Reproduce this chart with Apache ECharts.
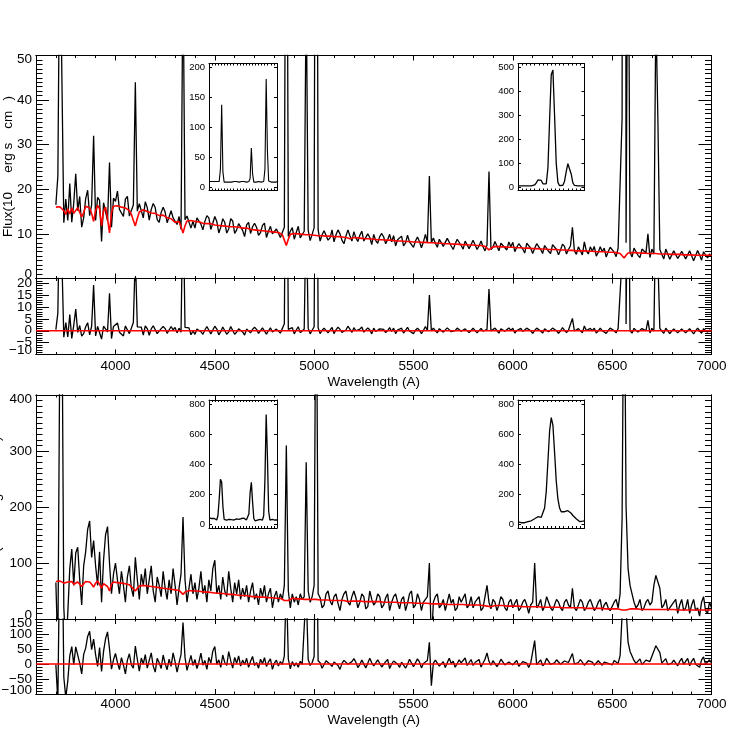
<!DOCTYPE html>
<html><head><meta charset="utf-8">
<script src="https://cdn.jsdelivr.net/npm/echarts@6/dist/echarts.min.js"></script>
<style>html,body{margin:0;padding:0;background:#fff}#c{width:747px;height:747px}</style>
</head><body><div id="c"></div><script>
// ---------------- data ----------------
const X_MIN = 3600, X_MAX = 7000, X_MINOR_STEP = 100;
const X_TICKS = [4000, 4500, 5000, 5500, 6000, 6500, 7000];
const X_TITLE = 'Wavelength (A)';
const Y_TITLE_RICH = '{a|Flux(10}{s|\u221217}{a| erg s}{s|\u22121}{a| cm}{s|\u22122}{a|)}';
const WL_START = 3700, WL_STEP = 10;   // spectrum sampling grid (Angstrom)

// top spectrum: model (red) and observed (black)
const MOD1 = [
16.0,15.6,16.1,15.8,15.2,14.4,15.6,14.5,15.8,14.6,
14.4,15.9,16.2,13.8,14.8,16.2,16.4,15.8,14.6,12.8,
15.2,16.4,15.6,11.8,15.1,16.0,13.4,10.2,14.8,16.2,
16.2,16.3,16.1,16.0,16.1,15.8,15.6,15.2,14.4,13.0,
11.8,13.5,14.9,15.3,15.4,15.2,15.0,15.0,14.7,14.7,
14.6,14.4,14.1,13.9,14.2,14.0,13.6,13.8,13.4,13.2,
12.6,13.0,12.8,11.6,10.2,11.8,12.9,13.2,13.0,12.9,
12.8,12.9,12.7,12.6,12.4,12.5,12.3,12.2,12.3,12.1,
12.0,12.1,11.9,11.9,11.8,11.8,11.7,11.6,11.6,11.7,
11.6,11.5,11.5,11.4,11.3,11.2,11.3,11.1,11.0,11.0,
10.9,10.9,10.8,10.8,10.7,10.7,10.6,10.6,10.5,10.5,
10.4,10.4,10.3,10.2,9.8,8.6,7.4,8.8,9.9,10.1,
10.1,10.0,10.0,9.9,9.9,9.9,9.8,9.8,9.8,9.7,
9.7,9.7,9.6,9.6,9.6,9.6,9.5,9.5,9.5,9.5,
9.4,9.4,9.4,9.4,9.3,9.3,9.2,9.0,8.9,9.1,
9.2,9.1,9.1,9.0,9.0,9.0,8.9,8.8,8.9,8.9,
8.8,8.8,8.7,8.6,8.7,8.7,8.6,8.6,8.6,8.5,
8.5,8.5,8.4,8.4,8.4,8.3,8.3,8.3,8.3,8.2,
8.2,8.2,8.2,8.1,8.1,8.1,8.1,8.0,8.0,8.0,
8.0,7.9,7.9,7.9,7.9,7.8,7.8,7.8,7.8,7.7,
7.7,7.7,7.7,7.6,7.6,7.6,7.6,7.5,7.5,7.5,
7.5,7.4,7.4,7.4,7.4,7.3,7.2,6.9,6.4,6.6,
7.1,7.2,7.2,7.2,7.1,7.1,7.1,7.1,7.0,7.0,
7.0,7.0,6.9,6.9,6.9,6.9,6.8,6.8,6.8,6.8,
6.7,6.7,6.7,6.7,6.6,6.6,6.6,6.6,6.5,6.5,
6.5,6.5,6.5,6.4,6.4,6.4,6.4,6.3,6.3,6.3,
6.3,6.3,6.2,6.2,6.2,6.2,6.2,6.1,6.1,6.1,
6.1,6.1,6.0,6.0,6.0,6.0,6.0,5.9,5.9,5.9,
5.9,5.9,5.8,5.8,5.6,5.1,4.6,5.2,5.7,5.8,
5.8,5.8,5.8,5.7,5.7,5.7,5.7,5.7,5.6,5.6,
5.6,5.6,5.6,5.6,5.5,5.5,5.5,5.5,5.5,5.5,
5.4,5.4,5.4,5.4,5.4,5.4,5.3,5.3,5.3,5.3,
5.3,5.3,5.2,5.2,5.2,5.2,5.2,5.2,5.2,5.2,
5.2];
const OBS1 = [
16.5,23.0,80,80,12.5,17.8,13.0,21.3,12.6,16.9,
23.5,15.2,18.4,11.5,13.6,17.9,19.8,14.1,16.5,32.0,
13.0,18.2,17.5,8.3,17.0,16.8,12.9,26.0,11.5,18.0,
17.3,19.6,15.5,15.2,13.9,17.8,18.4,14.0,13.9,16.5,
44.0,15.1,16.8,16.8,13.6,17.2,15.9,13.1,15.5,16.8,
15.9,13.2,12.6,14.8,16.0,14.9,12.5,12.3,15.2,13.6,
14.0,12.1,13.9,11.0,70,13.2,14.0,14.4,11.3,12.8,
11.3,13.6,14.0,12.2,10.9,12.8,14.1,13.6,11.0,12.4,
13.9,12.8,10.2,11.5,13.4,12.6,10.2,11.1,13.4,12.9,
10.1,10.9,12.3,12.7,10.8,9.4,12.0,12.6,10.1,11.6,
12.4,11.5,9.7,10.3,11.9,12.4,9.2,10.6,11.7,10.0,
9.8,11.1,11.5,9.2,9.0,11.5,137,9.4,10.6,11.4,
8.8,10.3,11.7,9.1,9.0,10.6,65,10.8,8.5,9.9,
11.4,180,10.9,8.4,9.8,10.7,11.0,8.6,9.1,10.9,
8.2,9.8,10.9,10.0,8.6,7.8,9.5,10.9,9.6,8.4,
10.5,9.1,8.3,9.7,10.6,8.4,8.5,10.0,9.2,7.6,
9.9,8.5,7.9,9.4,10.1,9.3,7.8,8.7,9.9,8.2,
9.6,7.3,8.7,9.1,9.5,7.3,8.0,9.7,8.2,8.5,
7.0,8.4,9.3,8.3,6.9,8.2,9.9,8.1,23.0,8.0,
9.1,7.9,7.0,8.8,8.9,7.2,7.6,9.0,8.9,7.3,
6.5,7.8,8.8,8.7,7.4,6.6,8.4,8.3,6.7,7.6,
8.6,8.5,6.5,7.3,8.4,7.1,6.2,7.5,24.0,6.5,
7.0,8.3,7.3,6.2,7.9,8.1,6.9,6.4,8.2,7.1,
8.1,6.0,7.0,7.8,7.9,6.6,5.7,7.9,7.9,6.8,
5.6,6.8,7.8,7.7,6.5,5.6,7.4,7.4,6.1,5.6,
7.6,7.5,6.5,5.3,6.4,7.7,7.2,5.5,6.5,7.3,
11.5,6.2,5.4,7.1,7.3,5.3,8.2,6.2,5.5,7.1,
6.1,7.2,5.0,5.9,7.1,6.0,6.8,4.8,6.0,7.0,
7.0,5.9,4.9,6.8,6.7,36,490,8.0,100,5.9,
4.8,6.8,6.6,5.2,4.7,6.6,6.5,5.7,10.0,4.7,
6.6,5.5,60,36,6.5,5.4,4.4,6.6,6.6,4.3,
5.3,6.2,6.5,4.5,5.2,6.1,6.4,4.4,5.3,6.2,
6.2,4.0,5.1,6.3,5.3,4.1,6.0,6.2,4.6,5.5,
5.0];

// bottom spectrum: model (red) and observed (black)
const MOD2 = [
67,66,68,66,64,62,66,63,67,62,
61,66,67,58,63,67,68,66,62,57,
64,68,65,55,63,66,58,50,62,66,
65,65,64,64,63,63,62,61,58,54,
50,55,59,60,60,59,59,58,58,57,
57,56,56,55,55,54,54,54,53,53,
52,52,51,48,44,48,51,51,51,50,
50,50,49,49,49,48,48,48,47,47,
47,46,46,46,45,45,45,44,44,44,
43,43,43,42,42,42,41,41,41,40,
40,40,39,39,39,39,38,38,38,38,
37,37,37,37,36,33,30,33,36,37,
37,36,36,36,36,35,35,35,35,35,
35,35,34,34,34,34,34,34,33,33,
33,33,33,33,33,33,32,31,31,32,
32,32,32,32,32,31,31,31,31,31,
31,31,31,31,30,30,30,30,30,30,
30,30,30,29,29,29,29,29,29,29,
29,28,28,28,28,28,28,28,28,27,
27,27,27,27,27,27,27,26,26,26,
26,26,26,26,26,26,25,25,25,25,
25,25,25,25,25,24,24,23,21,22,
24,24,24,24,24,24,23,23,23,23,
23,23,23,23,23,22,22,22,22,22,
22,22,22,22,21,21,21,21,21,21,
21,21,21,21,21,20,20,20,20,20,
20,20,20,20,20,20,19,19,19,19,
19,19,19,19,19,19,19,18,18,18,
18,18,18,18,17,16,15,16,17,18,
18,18,18,18,18,17,17,17,17,17,
17,17,17,17,17,17,17,17,17,17,
17,17,16,16,16,16,16,16,16,16,
16,16,16,16,16,16,16,16,16,16,
16];
const OBS2 = [
65,-60,500,600,20,-50,10,90,125,60,
118,128,70,25,95,120,160,175,110,140,
95,60,120,30,105,150,165,100,45,80,
100,70,45,85,60,30,75,95,55,40,
110,70,35,80,60,90,45,70,95,50,
30,75,60,40,85,55,35,70,45,90,
60,25,55,80,182,70,30,55,80,45,
65,35,55,85,45,60,30,70,50,90,
105,45,60,35,75,50,40,85,55,30,
65,45,70,35,55,40,60,30,50,65,
35,45,25,55,40,60,30,45,55,20,
40,50,30,45,35,60,310,50,20,45,
30,40,25,45,35,40,280,50,30,40,
60,730,45,38,20,25,45,50,32,25,
40,45,28,15,35,45,50,30,25,40,
50,38,20,30,45,40,18,22,50,35,
25,30,45,40,20,25,38,45,15,30,
40,45,30,18,35,40,15,28,45,50,
20,25,45,35,15,30,35,40,100,-45,
30,40,45,20,25,35,15,30,45,28,
35,15,20,40,30,28,45,20,25,40,
20,30,35,40,15,20,40,60,30,18,
35,30,15,25,40,35,20,15,30,35,
20,28,35,15,20,30,35,25,10,25,
30,100,20,25,35,15,22,40,30,20,
15,25,35,30,20,15,30,35,25,20,
55,20,15,25,35,30,15,20,30,35,
25,15,20,30,35,15,25,30,20,15,
15,30,35,20,45,180,710,200,90,60,
45,30,20,25,35,15,20,30,35,25,
30,60,78,75,55,20,25,35,15,20,
20,30,35,10,25,35,15,20,35,10,
25,35,15,20,5,30,40,15,10,30,
20];

// insets: Hbeta/[OIII] (blue) and Halpha/[NII] (red) zooms
const INS_BLUE_RANGE = [4820, 5040], INS_BLUE_START = 4821, INS_BLUE_STEP = 4;
const INS_RED_RANGE = [6520, 6600], INS_RED_START = 6520, INS_RED_STEP = 2;
const INS1 = [ // top, blue
9,10,9,10,9,10,9,8,9,30,
137,25,8,7,8,9,8,9,8,9,
9,8,9,9,8,9,9,8,9,9,
8,9,9,14,65,22,8,7,8,8,
9,8,8,9,9,30,180,60,10,8,
8,9,8,9,8,9];
const INS2 = [ // top, red
5,5,5,5,5,5,5,5,5,6,
9,18,30,35,28,14,8,14,80,280,
470,490,300,100,20,6,5,8,25,65,
98,95,55,18,7,5,5,5,5,5,
5];
const INS3 = [ // bottom, blue
45,42,40,38,40,35,30,60,170,300,
280,120,35,25,30,38,35,38,32,35,
30,33,38,30,35,32,40,35,42,38,
30,35,70,210,280,150,40,25,28,30,
28,35,30,30,60,300,730,450,90,30,
28,35,32,30,33,30];
const INS4 = [ // bottom, red
18,15,12,10,12,16,20,22,25,30,
38,48,52,50,48,60,110,220,420,620,
710,660,480,290,170,110,85,80,85,90,
92,88,75,60,48,38,28,20,18,22,
25];
const INS1_YTICKS = [0, 50, 100, 150, 200];
const INS2_YTICKS = [0, 100, 200, 300, 400, 500];
const INS34_YTICKS = [0, 200, 400, 600, 800];

// ---------------- chart ----------------
const FONT = '"Liberation Sans", Arial, Helvetica, sans-serif';
const BLACK = '#000', RED = '#ff0000';
const LS = {color: BLACK, width: 1};
const grid = [], xAxis = [], yAxis = [], series = [];
const addGrid = g => { grid.push(Object.assign({outerBoundsMode: 'none', containLabel: false}, g)); return grid.length - 1; };
const addX = a => { xAxis.push(a); return xAxis.length - 1; };
const addY = a => { yAxis.push(a); return yAxis.length - 1; };
const fmtMinus = v => String(v).replace('-', '\u2212');
const fmtPlain = v => String(v);

function mainX(gi, labels, margin, nameGap) {
  const base = {gridIndex: gi, type: 'value', min: X_MIN, max: X_MAX, splitLine: {show: false},
    axisLine: {show: true, onZero: false, lineStyle: LS}};
  addX(Object.assign({}, base, {position: 'bottom', interval: X_MINOR_STEP,
    axisTick: {show: true, inside: true, length: 2.5, lineStyle: LS}, axisLabel: {show: false}}));
  addX(Object.assign({}, base, {position: 'top', interval: X_MINOR_STEP,
    axisTick: {show: true, inside: true, length: 2.5, lineStyle: LS}, axisLabel: {show: false}}));
  addX(Object.assign({}, base, {position: 'top',
    axisTick: {show: true, inside: true, length: 5, customValues: X_TICKS, lineStyle: LS}, axisLabel: {show: false}}));
  return addX(Object.assign({}, base, {position: 'bottom',
    axisTick: {show: true, inside: true, length: 5, customValues: X_TICKS, lineStyle: LS},
    axisLabel: {show: labels, customValues: X_TICKS, margin: margin, color: BLACK, fontSize: 13.5,
      fontFamily: FONT, formatter: fmtPlain},
    name: labels ? X_TITLE : '', nameLocation: 'middle', nameGap: nameGap,
    nameTextStyle: {color: BLACK, fontSize: 13.5, fontFamily: FONT}}));
}
function mainY(gi, min, max, majorStep, minorStep, showMax) {
  const base = {gridIndex: gi, type: 'value', min: min, max: max, splitLine: {show: false},
    axisLine: {show: true, onZero: false, lineStyle: LS}};
  const lbl = {show: true, margin: 4, color: BLACK, fontSize: 13.5, fontFamily: FONT, lineHeight: 8, formatter: fmtMinus};
  addY(Object.assign({}, base, {position: 'left', interval: minorStep,
    axisTick: {show: true, inside: true, length: 6.5, lineStyle: LS}, axisLabel: {show: false}}));
  addY(Object.assign({}, base, {position: 'right', interval: minorStep,
    axisTick: {show: true, inside: true, length: 6.5, lineStyle: LS}, axisLabel: {show: false}}));
  addY(Object.assign({}, base, {position: 'right', interval: majorStep,
    axisTick: {show: true, inside: true, length: 13, lineStyle: LS}, axisLabel: {show: false}}));
  // end labels on their own axes so neighbouring labels are never dropped
  addY(Object.assign({}, base, {position: 'left', axisLine: {show: false, onZero: false}, axisTick: {show: false},
    axisLabel: Object.assign({}, lbl, {customValues: [min], verticalAlign: 'bottom'})}));
  if (showMax) {
    addY(Object.assign({}, base, {position: 'left', axisLine: {show: false, onZero: false}, axisTick: {show: false},
      axisLabel: Object.assign({}, lbl, {customValues: [max], verticalAlign: 'top'})}));
  }
  return addY(Object.assign({}, base, {position: 'left', interval: majorStep,
    axisTick: {show: true, inside: true, length: 13, lineStyle: LS},
    axisLabel: Object.assign({}, lbl, {showMaxLabel: false, showMinLabel: false})}));
}
function insetAxes(gi, xr, xstep, ymin, ymax, yticks) {
  const bx = {gridIndex: gi, type: 'value', min: xr[0], max: xr[1], interval: xstep, splitLine: {show: false},
    axisLine: {show: true, onZero: false, lineStyle: LS},
    axisTick: {show: true, inside: true, length: 2, lineStyle: LS}, axisLabel: {show: false}};
  const xi = addX(Object.assign({}, bx, {position: 'bottom'}));
  addX(Object.assign({}, bx, {position: 'top'}));
  const by = {gridIndex: gi, type: 'value', min: ymin, max: ymax, splitLine: {show: false},
    axisLine: {show: true, onZero: false, lineStyle: LS},
    axisTick: {show: true, inside: true, length: 3, customValues: yticks, lineStyle: LS}};
  const yi = addY(Object.assign({}, by, {position: 'left',
    axisLabel: {show: true, customValues: yticks, margin: 4, color: BLACK, fontSize: 9.5, fontFamily: FONT}}));
  addY(Object.assign({}, by, {position: 'right', axisLabel: {show: false}}));
  return [xi, yi];
}
function addLine(xi, yi, data, color, width, z) {
  series.push({type: 'line', xAxisIndex: xi, yAxisIndex: yi, data: data, showSymbol: false, symbol: 'none',
    lineStyle: {color: color, width: width}, itemStyle: {color: color}, silent: true, animation: false,
    clip: true, z: z, emphasis: {disabled: true}});
}

const WL = OBS1.map((_, i) => WL_START + i * WL_STEP);
const pairs = (arr) => arr.map((v, i) => [WL[i], v]);
const resid = (obs, mod) => obs.map((v, i) => [WL[i], +(v - mod[i]).toFixed(2)]);
const zero = [[X_MIN, 0], [X_MAX, 0]];
const insData = (arr, start, step) => arr.map((v, i) => [start + i * step, v]);

// top panel
const g0 = addGrid({left: 36, width: 675.5, top: 55.5, height: 223});
const g1 = addGrid({left: 36, width: 675.5, top: 278.5, height: 76});
const x0 = mainX(g0, false, 4, 20), y0 = mainY(g0, 0, 50, 10, 1, true);
const x1 = mainX(g1, true, 4.5, 21), y1 = mainY(g1, -10, 22, 5, 1, false);
addLine(x0, y0, pairs(OBS1), BLACK, 1.3, 2);
addLine(x0, y0, pairs(MOD1), RED, 1.6, 3);
addLine(x1, y1, resid(OBS1, MOD1), BLACK, 1.3, 2);
addLine(x1, y1, zero, RED, 1.6, 3);

// bottom panel
const g2 = addGrid({left: 36, width: 675.5, top: 395, height: 224});
const g3 = addGrid({left: 36, width: 675.5, top: 619, height: 75});
const x2 = mainX(g2, false, 4, 20), y2 = mainY(g2, 0, 400, 100, 10, true);
const x3 = mainX(g3, true, 3, 19), y3 = mainY(g3, -100, 150, 50, 10, true);
addLine(x2, y2, pairs(OBS2), BLACK, 1.3, 2);
addLine(x2, y2, pairs(MOD2), RED, 1.6, 3);
addLine(x3, y3, resid(OBS2, MOD2), BLACK, 1.3, 2);
addLine(x3, y3, zero, RED, 1.6, 3);

// insets
const gi1 = addGrid({left: 209, width: 68, top: 63.5, height: 127, show: true, backgroundColor: '#fff', borderWidth: 0});
const gi2 = addGrid({left: 518, width: 66.5, top: 63.5, height: 127, show: true, backgroundColor: '#fff', borderWidth: 0});
const gi3 = addGrid({left: 209, width: 68, top: 400, height: 128, show: true, backgroundColor: '#fff', borderWidth: 0});
const gi4 = addGrid({left: 518, width: 66.5, top: 400, height: 128, show: true, backgroundColor: '#fff', borderWidth: 0});
let a;
a = insetAxes(gi1, INS_BLUE_RANGE, 10, -6, 206, INS1_YTICKS);
addLine(a[0], a[1], insData(INS1, INS_BLUE_START, INS_BLUE_STEP), BLACK, 1.1, 5);
a = insetAxes(gi2, INS_RED_RANGE, 5, -14, 517, INS2_YTICKS);
addLine(a[0], a[1], insData(INS2, INS_RED_START, INS_RED_STEP), BLACK, 1.3, 5);
a = insetAxes(gi3, INS_BLUE_RANGE, 10, -23, 827, INS34_YTICKS);
addLine(a[0], a[1], insData(INS3, INS_BLUE_START, INS_BLUE_STEP), BLACK, 1.3, 5);
a = insetAxes(gi4, INS_RED_RANGE, 5, -23, 827, INS34_YTICKS);
addLine(a[0], a[1], insData(INS4, INS_RED_START, INS_RED_STEP), BLACK, 1.3, 5);

const titleStyle = {
  text: Y_TITLE_RICH, align: 'center', verticalAlign: 'bottom', fill: BLACK,
  fontSize: 13.5, fontFamily: FONT,
  rich: {
    a: {fontSize: 13.5, fontFamily: FONT, fill: BLACK, lineHeight: 26, verticalAlign: 'bottom'},
    s: {fontSize: 9, fontFamily: FONT, fill: BLACK, lineHeight: 26, verticalAlign: 'top'}
  }
};
const chart = echarts.init(document.getElementById('c'), null, {renderer: 'canvas'});
chart.setOption({
  animation: false,
  backgroundColor: '#fff',
  textStyle: {fontFamily: FONT},
  grid: grid, xAxis: xAxis, yAxis: yAxis, series: series,
  graphic: [
    {type: 'text', x: 15, y: 166.5, rotation: Math.PI / 2, silent: true, style: titleStyle},
    {type: 'text', x: 3, y: 507, rotation: Math.PI / 2, silent: true, style: titleStyle}
  ]
});
</script></body></html>
